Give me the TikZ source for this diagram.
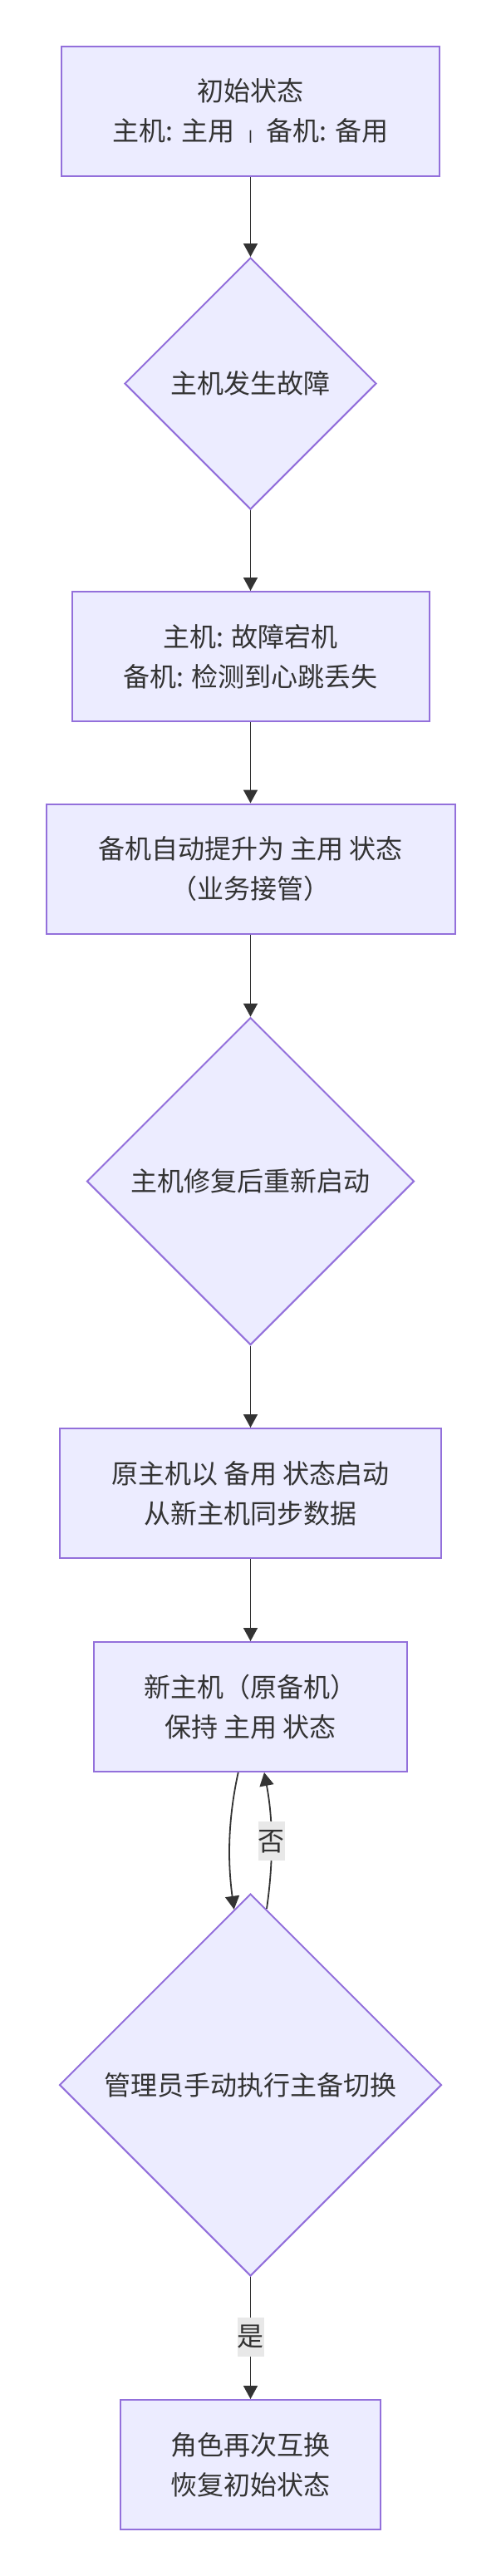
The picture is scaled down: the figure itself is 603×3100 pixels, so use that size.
\documentclass[tikz,border=0pt]{standalone}
\usepackage{fontspec}
\usepackage{graphicx}
\setmainfont{Noto Sans CJK SC}
\usetikzlibrary{shapes.geometric,arrows.meta,calc}
\definecolor{nodefill}{HTML}{ECECFF}
\definecolor{nodeline}{HTML}{9370DB}
\definecolor{ink}{HTML}{333333}
\definecolor{lblbg}{HTML}{E8E8E8}
\begin{document}
\begin{tikzpicture}[x=0.5pt,y=-0.5pt,
  txt/.style={text=ink, font=\fontsize{16pt}{24pt}\selectfont},
  box/.style={txt, draw=nodeline, fill=nodefill, line width=1pt, rectangle,
    minimum height=78pt, inner sep=0pt, align=center},
  dia/.style={txt, draw=nodeline, fill=nodefill, line width=1pt, diamond,
    inner sep=0pt, align=center},
  flow/.style={draw=ink, line width=0.9pt, -{Triangle[length=8pt,width=8.5pt]}},
  lbl/.style={txt, fill=lblbg, inner sep=0pt, minimum width=16pt, minimum height=23.5pt}]
\useasboundingbox (0,0) rectangle (603,3100);
\fill[white] (0,0) rectangle (603,3100);

\node[box, minimum width=227.5pt] (b1) at (301.5,133.5) {初始状态\\主机: 主用\hspace{8pt}\raisebox{0.3pt}{\scalebox{0.8}[0.42]{|}}\hspace{8pt}备机: 备用};
\node[dia, minimum width=151.5pt, minimum height=151.5pt] (d1) at (301.5,461.5) {主机发生故障};
\node[box, minimum width=215pt] (b2) at (301.5,790) {主机: 故障宕机\\备机: 检测到心跳丢失};
\node[box, minimum width=246pt] (b3) at (301.5,1045.5) {备机自动提升为 主用 状态\\（业务接管）};
\node[dia, minimum width=197pt, minimum height=197pt] (d2) at (301.5,1421.5) {主机修复后重新启动};
\node[box, minimum width=229.5pt] (b4) at (301.5,1797) {原主机以 备用 状态启动\\从新主机同步数据};
\node[box, minimum width=188.5pt] (b5) at (301.5,2054) {新主机（原备机）\\保持 主用 状态};
\node[dia, minimum width=230pt, minimum height=230pt] (d3) at (301.5,2509) {管理员手动执行主备切换};
\node[box, minimum width=156.5pt] (b6) at (301.5,2966) {角色再次互换\\恢复初始状态};

\draw[flow] (b1.south) -- (d1.north);
\draw[flow] (d1.south) -- (b2.north);
\draw[flow] (b2.south) -- (b3.north);
\draw[flow] (b3.south) -- (d2.north);
\draw[flow] (d2.south) -- (b4.north);
\draw[flow] (b4.south) -- (b5.north);

\draw[flow] ($(b5.south)+(-14.8,0)$) .. controls ($(b5.south)+(-27.5,58)$) and ($(b5.south)+(-27.5,108)$) .. ($(d3.north)+(-19.8,19.8)$);
\draw[flow] ($(d3.north)+(19.5,19)$) .. controls ($(b5.south)+(27.5,108)$) and ($(b5.south)+(27.5,58)$) .. ($(b5.south)+(16.5,0)$)
  node[lbl, pos=0.5] (no) {否};

\draw[flow] (d3.south) -- (b6.north) node[lbl, pos=0.49] (yes) {是};
\end{tikzpicture}
\end{document}
